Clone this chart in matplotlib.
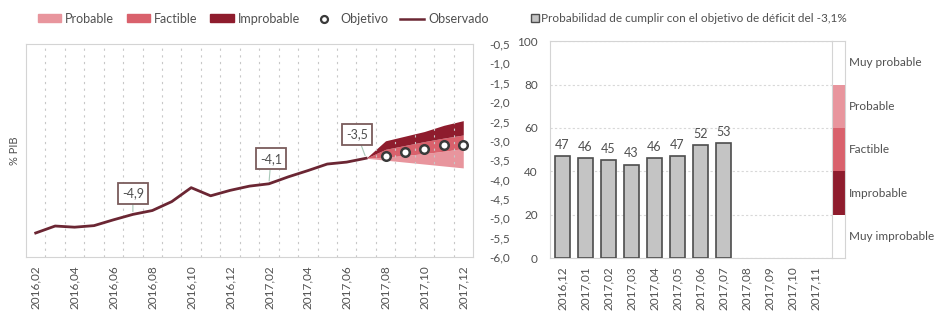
import numpy as np
import matplotlib
matplotlib.use("Agg")
import matplotlib.pyplot as plt
from matplotlib.patches import Patch
from matplotlib.lines import Line2D

plt.rcParams['font.family'] = ['Lato', 'DejaVu Sans']

# ---- datos ----
meses = ['2016,02', '2016,03', '2016,04', '2016,05', '2016,06', '2016,07', '2016,08',
         '2016,09', '2016,10', '2016,11', '2016,12', '2017,01', '2017,02', '2017,03',
         '2017,04', '2017,05', '2017,06', '2017,07', '2017,08', '2017,09', '2017,10',
         '2017,11', '2017,12']
observado = [-5.38, -5.2, -5.23, -5.19, -5.04, -4.9, -4.8, -4.57, -4.21, -4.42, -4.28,
             -4.17, -4.11, -3.93, -3.77, -3.6, -3.55, -3.45]
# abanico (2017,07 - 2017,12)
fan_meses = ['2017,07', '2017,08', '2017,09', '2017,10', '2017,11', '2017,12']
fan_inf = [-3.45, -3.5, -3.55, -3.6, -3.65, -3.7]
fan_prob = [-3.45, -3.42, -3.38, -3.33, -3.27, -3.2]
fan_fact = [-3.45, -3.22, -3.12, -3.02, -2.93, -2.85]
fan_sup = [-3.45, -3.0, -2.88, -2.76, -2.6, -2.48]
obj_meses = ['2017,08', '2017,09', '2017,10', '2017,11', '2017,12']
objetivo = [-3.4, -3.3, -3.2, -3.1, -3.1]
etiquetas_mes = ['2016,07', '2017,02', '2017,07']
etiquetas_txt = ['-4,9', '-4,1', '-3,5']

meses_prob = ['2016,12', '2017,01', '2017,02', '2017,03', '2017,04', '2017,05',
              '2017,06', '2017,07', '2017,08', '2017,09', '2017,10', '2017,11']
probabilidad = [47, 46, 45, 43, 46, 47, 52, 53]
escala_lim = [0, 20, 40, 60, 80, 100]
escala_txt = ['Muy improbable', 'Improbable', 'Factible', 'Probable', 'Muy probable']

c_prob = '#e8959d'
c_fact = '#d9616c'
c_improb = '#8e1c2d'
c_linea = '#6b2633'
c_texto = '#505050'
c_marco = '#d4d4d4'

fig = plt.figure(figsize=(9.42, 3.14), dpi=100)
ax1 = fig.add_axes([0.0276, 0.1815, 0.4745, 0.6785])
ax2 = fig.add_axes([0.584, 0.178, 0.2994, 0.691])
ax3 = fig.add_axes([0.8832, 0.178, 0.0138, 0.691])

# ---- panel izquierdo ----
idx = {m: i for i, m in enumerate(meses)}
x_obs = np.arange(len(observado))
x_fan = [idx[m] for m in fan_meses]
x_obj = [idx[m] for m in obj_meses]

ax1.fill_between(x_fan, fan_inf, fan_prob, color=c_prob, lw=0)
ax1.fill_between(x_fan, fan_prob, fan_fact, color=c_fact, lw=0)
ax1.fill_between(x_fan, fan_fact, fan_sup, color=c_improb, lw=0)
ax1.plot(x_obs, observado, color=c_linea, lw=2)
ax1.scatter(x_obj, objetivo, s=38, facecolor='white', edgecolor='#3a3a3a', lw=1.8, zorder=5)

offsets = [(0, 21), (2, 25), (-9, 24)]
for m, t, off in zip(etiquetas_mes, etiquetas_txt, offsets):
    i = idx[m]
    ax1.annotate(t, (i, observado[i]), xytext=off, textcoords='offset pixels',
                 ha='center', va='center', fontsize=9, color=c_texto,
                 bbox=dict(boxstyle='square,pad=0.35', fc='white', ec='#7a5c5c', lw=1.3),
                 arrowprops=dict(arrowstyle='-', color='#a8c8b8', lw=0.8, shrinkA=0, shrinkB=2))

ax1.set_xlim(-0.5, len(meses) - 0.5)
ax1.set_ylim(-6.0, -0.5)
ax1.set_xticks(np.arange(0, len(meses), 2))
ax1.set_xticklabels(meses[::2], rotation=90, fontsize=8.5, color=c_texto)
ax1.set_xticks(np.arange(len(meses) - 1) + 0.5, minor=True)
ax1.grid(which='minor', axis='x', color='#c8c8c8', ls=(0, (2, 4)), lw=0.8)
ax1.yaxis.tick_right()
yt = np.arange(-6.0, -0.49, 0.5)
ax1.set_yticks(yt)
ax1.set_yticklabels([f'{v:.1f}'.replace('.', ',') for v in yt], fontsize=8.5, color=c_texto)
ax1.tick_params(which='both', length=0)
ax1.tick_params(axis='y', pad=12)
ax1.tick_params(axis='x', pad=6)
ax1.set_ylabel('% PIB', fontsize=8, color=c_texto, labelpad=4)
ax1.yaxis.set_label_position('left')
for s in ax1.spines.values():
    s.set_color(c_marco)

handles = [Patch(color=c_prob), Patch(color=c_fact), Patch(color=c_improb),
           Line2D([], [], ls='none', marker='o', mfc='white', mec='#3a3a3a', mew=1.6, ms=5),
           Line2D([], [], color=c_linea, lw=1.8)]
fig.legend(handles, ['Probable', 'Factible', 'Improbable', 'Objetivo', 'Observado'],
           loc='center left', bbox_to_anchor=(0.028, 0.94), ncol=5, frameon=False,
           fontsize=9, labelcolor=c_texto, handlelength=1.9, handleheight=0.6,
           handletextpad=0.3, columnspacing=1.0)

# ---- panel derecho ----
xb = np.arange(len(probabilidad))
ax2.bar(xb, probabilidad, width=0.65, color='#c4c4c4', edgecolor='#4d4d4d', lw=1.2, zorder=3)
for x, v in zip(xb, probabilidad):
    ax2.text(x, v + 2.5, str(v), ha='center', va='bottom', fontsize=9, color=c_texto)
ax2.set_xlim(-0.52, len(meses_prob) - 0.28)
ax2.set_ylim(0, 100)
ax2.set_xticks(np.arange(len(meses_prob)))
ax2.set_xticklabels(meses_prob, rotation=90, fontsize=8.5, color=c_texto)
ax2.set_yticks(escala_lim)
ax2.set_yticklabels([str(v) for v in escala_lim], fontsize=8.5, color=c_texto)
ax2.tick_params(length=0)
ax2.tick_params(axis='y', pad=9)
ax2.tick_params(axis='x', pad=6)
ax2.grid(axis='y', color='#d8d8d8', ls=(0, (2, 2)), lw=0.8)
ax2.set_axisbelow(True)
for s in ax2.spines.values():
    s.set_color(c_marco)
ax2.spines['right'].set_visible(False)

fig.legend([Patch(fc='#c4c4c4', ec='#4d4d4d', lw=1.0)],
           ['Probabilidad de cumplir con el objetivo de déficit del -3,1%'],
           loc='center left', bbox_to_anchor=(0.552, 0.94), frameon=False,
           fontsize=8.5, labelcolor=c_texto, handlelength=0.7, handleheight=0.7,
           handletextpad=0.2)

# ---- escala de probabilidad ----
colores_escala = ['none', c_improb, c_fact, c_prob, 'none']
for lo, hi, col in zip(escala_lim[:-1], escala_lim[1:], colores_escala):
    ax3.bar(0, hi - lo, bottom=lo, width=1, color=col, lw=0)
for lo, hi, t in zip(escala_lim[:-1], escala_lim[1:], escala_txt):
    ax3.text(1.3, (lo + hi) / 2, t, transform=ax3.get_yaxis_transform(),
             ha='left', va='center', fontsize=8.5, color=c_texto)
ax3.set_xlim(-0.5, 0.5)
ax3.set_ylim(0, 100)
ax3.set_xticks([])
ax3.set_yticks([])
for s in ax3.spines.values():
    s.set_color(c_marco)

fig.savefig('out.png', dpi=100)
